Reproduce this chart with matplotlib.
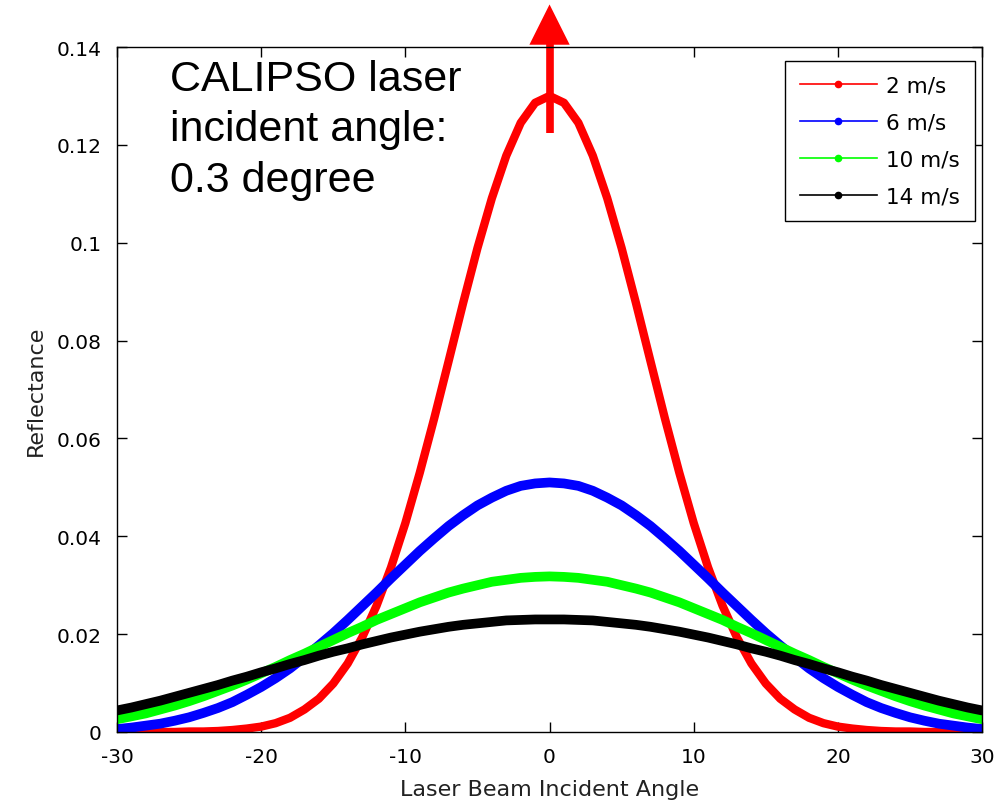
import matplotlib
matplotlib.use("Agg")
import matplotlib.pyplot as plt
from matplotlib.lines import Line2D

# incident angle, degrees
angles = list(range(-30, 31))

# reflectance (symmetric about 0), one value per degree
refl_2 = [
    0.0000, 0.0000, 0.0000, 0.0000, 0.0000, 0.0001, 0.0001, 0.0002, 0.0004, 0.0007,
    0.0011, 0.0018, 0.0029, 0.0046, 0.0068, 0.0099, 0.0140, 0.0193, 0.0258, 0.0336,
    0.0427, 0.0530, 0.0641, 0.0758, 0.0876, 0.0989, 0.1091, 0.1178, 0.1245, 0.1286,
    0.1300,
    0.1286, 0.1245, 0.1178, 0.1091, 0.0989, 0.0876, 0.0758, 0.0641, 0.0530, 0.0427,
    0.0336, 0.0258, 0.0193, 0.0140, 0.0099, 0.0068, 0.0046, 0.0029, 0.0018, 0.0011,
    0.0007, 0.0004, 0.0002, 0.0001, 0.0001, 0.0000, 0.0000, 0.0000, 0.0000, 0.0000,
]
refl_6 = [
    0.0006, 0.0009, 0.0013, 0.0017, 0.0023, 0.0030, 0.0039, 0.0049, 0.0061, 0.0076,
    0.0092, 0.0110, 0.0130, 0.0153, 0.0177, 0.0202, 0.0229, 0.0257, 0.0285, 0.0314,
    0.0342, 0.0370, 0.0396, 0.0421, 0.0443, 0.0463, 0.0479, 0.0493, 0.0503, 0.0508,
    0.0510,
    0.0508, 0.0503, 0.0493, 0.0479, 0.0463, 0.0443, 0.0421, 0.0396, 0.0370, 0.0342,
    0.0314, 0.0285, 0.0257, 0.0229, 0.0202, 0.0177, 0.0153, 0.0130, 0.0110, 0.0092,
    0.0076, 0.0061, 0.0049, 0.0039, 0.0030, 0.0023, 0.0017, 0.0013, 0.0009, 0.0006,
]
refl_10 = [
    0.0026, 0.0032, 0.0038, 0.0046, 0.0054, 0.0063, 0.0073, 0.0084, 0.0095, 0.0107,
    0.0120, 0.0133, 0.0147, 0.0160, 0.0174, 0.0188, 0.0202, 0.0215, 0.0229, 0.0241,
    0.0253, 0.0265, 0.0275, 0.0285, 0.0293, 0.0300, 0.0307, 0.0311, 0.0315, 0.0317,
    0.0318,
    0.0317, 0.0315, 0.0311, 0.0307, 0.0300, 0.0293, 0.0285, 0.0275, 0.0265, 0.0253,
    0.0241, 0.0229, 0.0215, 0.0202, 0.0188, 0.0174, 0.0160, 0.0147, 0.0133, 0.0120,
    0.0107, 0.0095, 0.0084, 0.0073, 0.0063, 0.0054, 0.0046, 0.0038, 0.0032, 0.0026,
]
refl_14 = [
    0.0044, 0.0050, 0.0057, 0.0064, 0.0072, 0.0080, 0.0088, 0.0096, 0.0105, 0.0113,
    0.0122, 0.0130, 0.0139, 0.0147, 0.0156, 0.0164, 0.0171, 0.0179, 0.0186, 0.0193,
    0.0199, 0.0205, 0.0210, 0.0215, 0.0219, 0.0222, 0.0225, 0.0228, 0.0229, 0.0230,
    0.0230,
    0.0230, 0.0229, 0.0228, 0.0225, 0.0222, 0.0219, 0.0215, 0.0210, 0.0205, 0.0199,
    0.0193, 0.0186, 0.0179, 0.0171, 0.0164, 0.0156, 0.0147, 0.0139, 0.0130, 0.0122,
    0.0113, 0.0105, 0.0096, 0.0088, 0.0080, 0.0072, 0.0064, 0.0057, 0.0050, 0.0044,
]

series_labels = ["2 m/s", "6 m/s", "10 m/s", "14 m/s"]
series_colors = ["#ff0000", "#0000ff", "#00ff00", "#000000"]

xticks = [-30, -20, -10, 0, 10, 20, 30]
xtick_labels = ["-30", "-20", "-10", "0", "10", "20", "30"]
yticks = [0, 0.02, 0.04, 0.06, 0.08, 0.1, 0.12, 0.14]
ytick_labels = ["0", "0.02", "0.04", "0.06", "0.08", "0.1", "0.12", "0.14"]

note = "CALIPSO laser\nincident angle:\n0.3 degree"
arrow_x = 0.0
arrow_from = 0.1224
arrow_neck = 0.1410
arrow_to = 0.1487

plt.rcParams.update({
    "font.family": ["DejaVu Sans"],
    "font.size": 15,
    "axes.unicode_minus": False,
})

fig = plt.figure(figsize=(9.96, 8.03), dpi=100)
ax = fig.add_axes([0.1175, 0.0872, 0.8685, 0.853])

curves = [refl_2, refl_6, refl_10, refl_14]
widths = [6.0, 7.0, 7.0, 7.0]
for ys, col, lw in zip(curves, series_colors, widths):
    ax.plot(angles, ys, color=col, linewidth=lw, solid_joinstyle="round",
            solid_capstyle="round")

ax.set_xlim(-30, 30)
ax.set_ylim(0, 0.14)
ax.set_xticks(xticks)
ax.set_xticklabels(xtick_labels)
ax.set_yticks(yticks)
ax.set_yticklabels(ytick_labels)
ax.tick_params(direction="in", length=7, width=1, top=True, right=True,
               colors="black", labelsize=14.5)
ax.tick_params(axis="x", pad=11)
ax.tick_params(axis="y", pad=11)
for spine in ax.spines.values():
    spine.set_color("black")
    spine.set_linewidth(1.0)

ax.set_xlabel("Laser Beam Incident Angle", fontsize=16, color="#222222", labelpad=9)
ax.set_ylabel("Reflectance", fontsize=16, color="#222222", labelpad=8)

handles = [Line2D([], [], color=c, linewidth=1.2, marker=".", markersize=9)
           for c in series_colors]
leg = ax.legend(handles, series_labels, loc="upper right",
                bbox_to_anchor=(0.992, 0.98), borderaxespad=0, fontsize=15.5,
                handlelength=3.6, handletextpad=0.42, labelspacing=0.78,
                borderpad=0.7, numpoints=1, fancybox=False, framealpha=1)
leg.get_frame().set_edgecolor("black")
leg.get_frame().set_linewidth(1.0)

ax.text(-26.3, 0.1376, note, fontsize=31, va="top", ha="left",
        family="Liberation Sans", linespacing=1.34, color="black")

# arrow: shaft as a line, head as a filled triangle
ax.plot([arrow_x, arrow_x], [arrow_from, arrow_neck], color="red",
        linewidth=5.5, solid_capstyle="butt", clip_on=False)
ax.annotate("", xy=(arrow_x, arrow_to), xytext=(arrow_x, arrow_from),
            arrowprops=dict(arrowstyle="-|>,head_length=2.9,head_width=1.45",
                            color="red", lw=0, shrinkA=0, shrinkB=0,
                            mutation_scale=10),
            annotation_clip=False)

fig.savefig("out.png", dpi=100)
